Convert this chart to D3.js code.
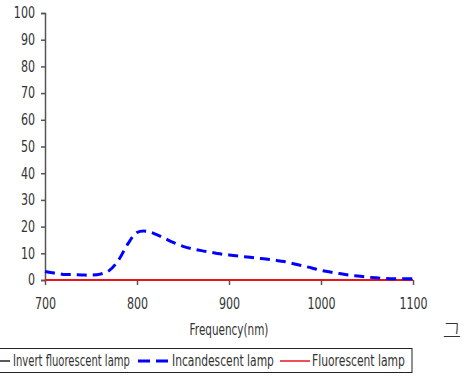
<!DOCTYPE html>
<html><head><meta charset="utf-8">
<script src="https://cdn.jsdelivr.net/npm/d3@7/dist/d3.min.js"></script>
<style>body{margin:0;background:#fff}svg{display:block}</style>
</head><body>
<script>
const wavelengths = [700,710,720,730,740,750,760,770,780,790,800,810,820,830,840,850,860,870,880,890,900,910,920,930,940,950,960,970,980,990,1000,1010,1020,1030,1040,1050,1060,1070,1080,1090,1100];
const incandescent = [3.2,2.6,2.1,2.0,1.9,1.8,2.2,3.6,7.5,13.5,17.8,18.3,17.2,15.6,14.0,12.6,11.7,11.0,10.4,9.8,9.4,9.0,8.6,8.2,7.9,7.4,6.9,6.1,5.3,4.5,3.6,3.0,2.4,1.9,1.5,1.1,0.8,0.6,0.5,0.5,0.5];
const invertFluorescent = wavelengths.map(() => 0);
const fluorescent = wavelengths.map(() => 0);
const yTicks = [0,10,20,30,40,50,60,70,80,90,100];
const xTicks = [700,800,900,1000,1100];
const seriesNames = ["Invert fluorescent lamp","Incandescent lamp","Fluorescent lamp"];
const xTitle = "Frequency(nm)";
const sideText = "그";

const W = 467, H = 378;
const font = "'DejaVu Sans',sans-serif";
const K = 0.74;
const svg = d3.select("body").append("svg").attr("width", W).attr("height", H);

const x = d3.scaleLinear().domain([700,1100]).range([45,413]);
const y = d3.scaleLinear().domain([0,100]).range([280,13]);

// horizontally condense a text by scaling around its x anchor
function narrow(sel, k, target){
  sel.each(function(){
    const t = d3.select(this);
    const tx = +t.attr("x") || 0;
    const kk = target ? target / this.getComputedTextLength() : k;
    t.attr("x", 0).attr("transform", `translate(${tx},0) scale(${kk},1)`);
  });
}

// axes
const yAxis = svg.append("g").attr("transform","translate(45,0)")
  .call(d3.axisLeft(y).tickValues(yTicks).tickFormat(d3.format("d")).tickSize(4).tickPadding(6));
const xAxis = svg.append("g").attr("transform","translate(0,280)")
  .call(d3.axisBottom(x).tickValues(xTicks).tickFormat(d3.format("d")).tickSize(5).tickPadding(13));
[yAxis,xAxis].forEach(g=>{
  g.select(".domain").attr("stroke","#555").attr("stroke-width",1.5);
  g.selectAll(".tick line").attr("stroke","#555").attr("stroke-width",1.5);
  g.selectAll("text").attr("font-family",font).attr("font-size",15).attr("fill","#333");
  narrow(g.selectAll("text"), K);
});
xAxis.select(".domain").attr("d","M45,0H413");

const line = d3.line().x((d,i)=>x(wavelengths[i])).y(d=>y(d)).curve(d3.curveCatmullRom);

svg.append("path").datum(invertFluorescent).attr("d",line)
  .attr("fill","none").attr("stroke","#222").attr("stroke-width",1.5);
svg.append("path").datum(fluorescent).attr("d",line)
  .attr("fill","none").attr("stroke","#e8141c").attr("stroke-width",2);
svg.append("path").datum(incandescent).attr("d",line)
  .attr("fill","none").attr("stroke","#0000ff").attr("stroke-width",3).attr("stroke-dasharray","10,6");

svg.append("text").attr("x",229).attr("y",335).attr("text-anchor","middle")
  .attr("font-family",font).attr("font-size",15).attr("fill","#333").text(xTitle)
  .call(narrow, K, 79);
svg.append("text").attr("x",452).attr("y",338).attr("text-anchor","middle")
  .attr("font-family","'Noto Sans CJK KR',sans-serif").attr("font-size",20).attr("font-weight",300).attr("fill","#333").text(sideText);

// legend
const lg = svg.append("g");
lg.append("rect").attr("x",-5).attr("y",348.5).attr("width",417).attr("height",24)
  .attr("fill","#fff").attr("stroke","#222").attr("stroke-width",1);
const items = [
  {sx:0, ex:10, tx:13, tw:117, color:"#222", w:1.5, dash:null},
  {sx:138, ex:168, tx:172, tw:102, color:"#0000ff", w:3, dash:"12,6"},
  {sx:280, ex:310, tx:312, tw:93, color:"#e8141c", w:1.5, dash:null}
];
items.forEach((it,i)=>{
  lg.append("line").attr("x1",it.sx).attr("x2",it.ex).attr("y1",361).attr("y2",361)
    .attr("stroke",it.color).attr("stroke-width",it.w).attr("stroke-dasharray",it.dash);
  lg.append("text").attr("x",it.tx).attr("y",366).attr("font-family",font).attr("font-size",15)
    .attr("fill","#333").text(seriesNames[i]).call(narrow, K, it.tw);
});
</script>
</body></html>
